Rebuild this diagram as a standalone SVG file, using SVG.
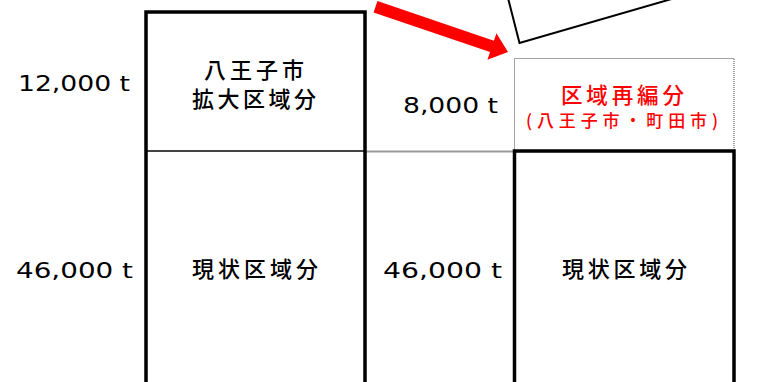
<svg xmlns="http://www.w3.org/2000/svg" width="775" height="382" viewBox="0 0 775 382">
<style>
.num{font-family:"DejaVu Sans","Liberation Sans",sans-serif;font-size:21px;fill:#000}
.jp{font-family:"Noto Sans CJK JP",sans-serif;font-size:22px;font-weight:500;fill:#000}
.red{font-family:"Noto Sans CJK JP",sans-serif;font-weight:500;fill:#ff0000}
.thick{fill:none;stroke:#000;stroke-width:3.5}
</style>
<rect width="775" height="382" fill="#fff"/>
<g id="connectors">
<line x1="366" y1="151.5" x2="514" y2="151.5" stroke="#999" stroke-width="2"/>
<polygon fill="#ff0000" transform="translate(375.5,6.8) rotate(18.8)" points="0,-6 123,-6 123,-14 140,0 123,14 123,6 0,6"/>
<polyline points="508,-2 519.5,43 675,-2" fill="none" stroke="#000" stroke-width="2"/>
</g>
<g id="left-column">
<line x1="147" y1="151" x2="364" y2="151" stroke="#444" stroke-width="2"/>
<path class="thick" d="M146,390 V12 H365 V390"/>
<text class="jp" x="204" y="78" textLength="100">八王子市</text>
<text class="jp" x="192" y="107" textLength="124">拡大区域分</text>
<text class="jp" x="192" y="277" textLength="126">現状区域分</text>
</g>
<g id="right-column">
<rect x="514.5" y="58.5" width="219.5" height="92.5" fill="none" stroke="#444" stroke-width="1" stroke-dasharray="1 1"/>
<path class="thick" d="M514.5,390 V151 H734 V390"/>
<text class="red" x="561" y="103" font-size="21.5" textLength="123">区域再編分</text>
<text class="red" x="526" y="127" font-size="17" textLength="192">(八王子市・町田市)</text>
<text class="jp" x="562" y="277" textLength="125">現状区域分</text>
</g>
<g id="labels">
<text class="num" x="18" y="91" textLength="112" lengthAdjust="spacingAndGlyphs">12,000 t</text>
<text class="num" x="16" y="278" textLength="117" lengthAdjust="spacingAndGlyphs">46,000 t</text>
<text class="num" x="403" y="113" textLength="95" lengthAdjust="spacingAndGlyphs">8,000 t</text>
<text class="num" x="383" y="278" textLength="119" lengthAdjust="spacingAndGlyphs">46,000 t</text>
</g>
</svg>
